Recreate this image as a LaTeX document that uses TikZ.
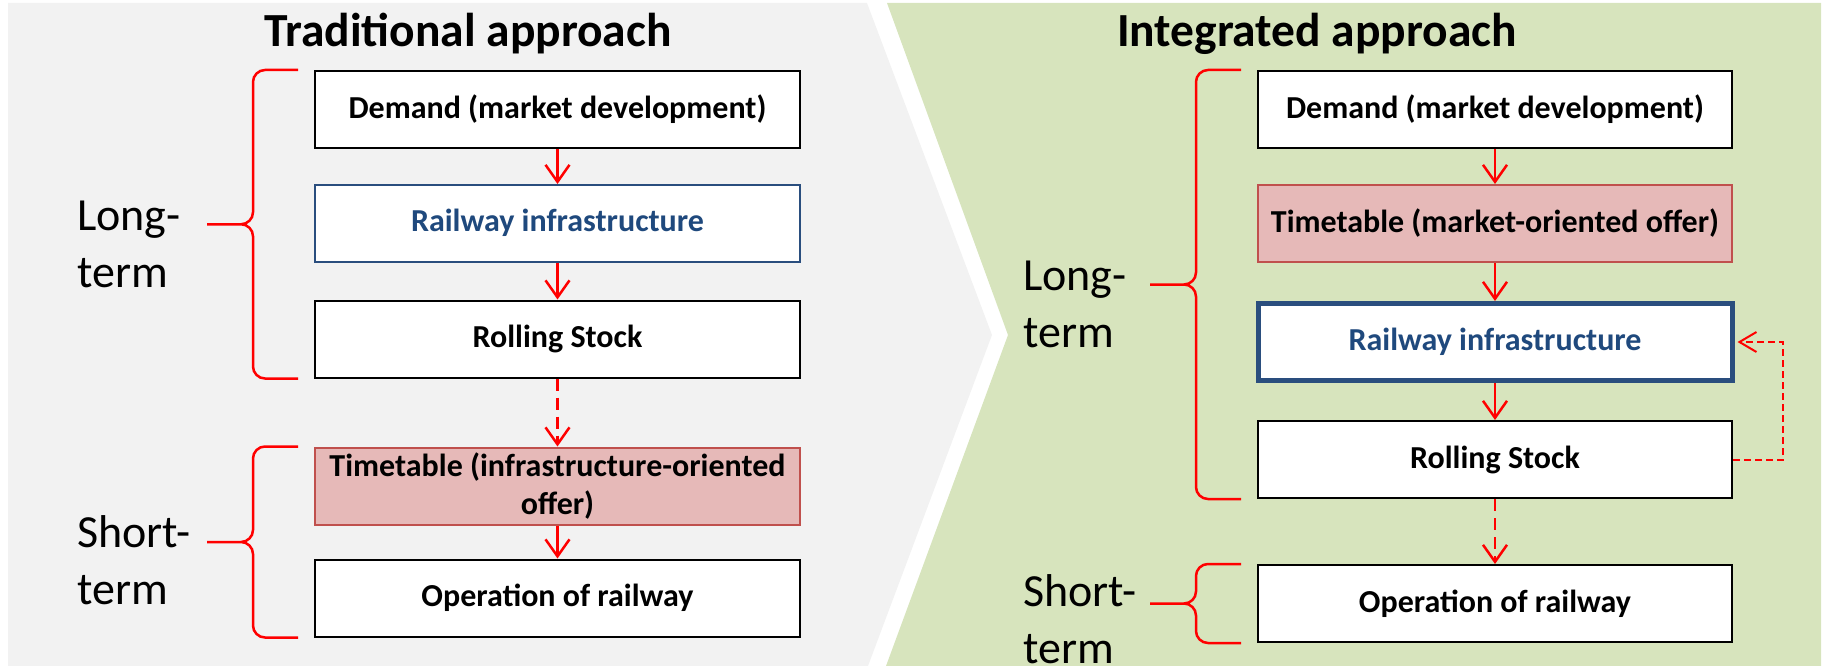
\documentclass[tikz,border=0pt]{standalone}
\usepackage{fontspec}
\setmainfont{Carlito}
\usetikzlibrary{positioning,calc,arrows.meta}
\definecolor{PanelGrey}{HTML}{F2F2F2}
\definecolor{PanelGreen}{HTML}{D7E4BD}
\definecolor{Signal}{HTML}{FF0000}
\definecolor{OfferFill}{HTML}{E6B9B8}
\definecolor{OfferEdge}{HTML}{C0504D}
\definecolor{InfraBlue}{HTML}{1F497D}
\definecolor{InfraEdge}{HTML}{2A4E7E}
\tikzset{
  plan box/.style={draw=black,line width=2pt,fill=white,align=center,
    minimum height=77pt,inner sep=4pt,font=\fontsize{32}{38}\selectfont\bfseries},
  offer box/.style={plan box,draw=OfferEdge,fill=OfferFill},
  infra box/.style={plan box,draw=InfraEdge,line width=1.5pt,text=InfraBlue},
  left col/.style={minimum width=485pt},
  right col/.style={minimum width=474pt},
  plan arrow/.style={-{Straight Barb[length=17pt,width=24pt]},line width=2.5pt,draw=Signal},
  plan dashed/.style={plan arrow,dash pattern=on 12pt off 7pt},
  feedback arrow/.style={-{Straight Barb[length=17pt,width=20pt]},line width=2pt,
    draw=Signal,dash pattern=on 7pt off 4pt},
  term brace/.style={line width=2.5pt,draw=Signal,rounded corners=12pt},
  term label/.style={anchor=base west,align=left,inner sep=0pt,font=\fontsize{46}{57}\selectfont},
  approach title/.style={anchor=base,font=\fontsize{47.5}{54}\selectfont\bfseries}
}
% brace left of a column of boxes, from the top of #1 to the bottom of #2;
% #3 names the point level with the tip, on the boxes' left edge
\newcommand{\termbrace}[3]{%
  \coordinate (#3) at ($(#1.north west)!.5!(#2.south west)$);
  \draw[term brace] ([xshift=-16pt]#1.north west) -| ([xshift=-61pt]#3) -- ([xshift=-107pt]#3)
    ([xshift=-107pt]#3) -- ([xshift=-61pt]#3) |- ([xshift=-16pt]#2.south west);
}

\begin{document}
\begin{tikzpicture}[x=1pt,y=-1pt]
  \useasboundingbox (0,0) rectangle (1823,666);
  \fill[PanelGrey] (8,3) -- (867,3) -- (992,335) -- (868,666) -- (8,666) -- cycle;
  \fill[PanelGreen] (887,3) -- (1821,3) -- (1821,666) -- (886,666) -- (1008,335) -- cycle;

  \node[approach title] (tradtitle) at (468,47) {Traditional approach};
  \node[approach title] (integtitle) at (1317,47) {Integrated approach};

  % traditional approach
  \node[plan box,left col] (demL) at (557.5,109.5) {Demand (market development)};
  \node[infra box,left col,below=35pt of demL] (infL) {Railway infrastructure};
  \node[plan box,left col,below=37pt of infL] (rollL) {Rolling Stock};
  \node[offer box,left col,below=68pt of rollL] (offL) {Timetable (infrastructure-oriented\\offer)};
  \node[plan box,left col,below=33pt of offL] (opL) {Operation of railway};
  \draw[plan arrow] (demL) -- (infL);
  \draw[plan arrow] (infL) -- (rollL);
  \draw[plan dashed] (rollL) -- (offL);
  \draw[plan arrow] (offL) -- (opL);
  \termbrace{demL}{rollL}{tipL1}
  \termbrace{offL}{opL}{tipL2}
  \node[term label] (longL) at ([xshift=-237pt,yshift=-63pt]tipL1) {Long-\\term};
  \node[term label] (shortL) at ([xshift=-237pt,yshift=-62pt]tipL2) {Short-\\term};

  % integrated approach
  \node[plan box,right col] (demR) at (1495,109.5) {Demand (market development)};
  \node[offer box,right col,below=35pt of demR] (offR) {Timetable (market-oriented offer)};
  \node[infra box,right col,line width=5pt,below=38pt of offR] (infR) {Railway infrastructure};
  \node[plan box,right col,below=37pt of infR] (rollR) {Rolling Stock};
  \node[plan box,right col,below=65pt of rollR] (opR) {Operation of railway};
  \draw[plan arrow] (demR) -- (offR);
  \draw[plan arrow] (offR) -- (infR);
  \draw[plan arrow] (infR) -- (rollR);
  \draw[plan dashed] (rollR) -- (opR);
  \draw[feedback arrow] (rollR.east) -- ++(50,0) |- ([xshift=3pt]infR.east);
  \termbrace{demR}{rollR}{tipR1}
  \termbrace{opR}{opR}{tipR2}
  \node[term label] (longR) at ([xshift=-234pt,yshift=-63pt]tipR1) {Long-\\term};
  \node[term label] (shortR) at ([xshift=-234pt,yshift=-60pt]tipR2) {Short-\\term};
\end{tikzpicture}
\end{document}
